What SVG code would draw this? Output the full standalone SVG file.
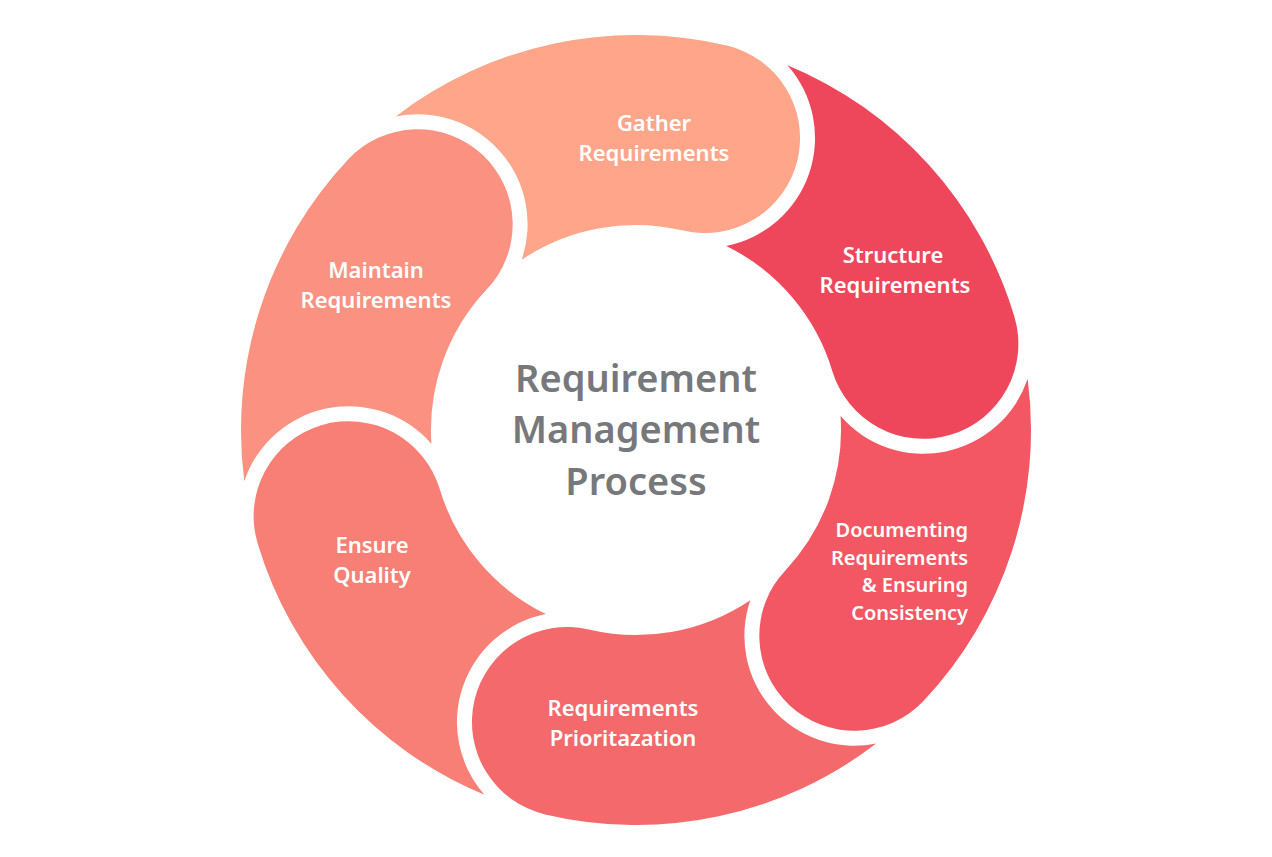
<svg xmlns="http://www.w3.org/2000/svg" width="1272" height="857" viewBox="0 0 1272 857">
<style>
.lbl{font-family:"Noto Sans","Open Sans","Liberation Sans",sans-serif;font-weight:600;font-size:22px;fill:#ffffff;text-anchor:middle}
.doc{font-size:20px;text-anchor:end}
.ctr{font-family:"Noto Sans","Open Sans","Liberation Sans",sans-serif;font-weight:600;font-size:38px;fill:#77787b;text-anchor:middle}
</style>
<defs>
<path id="seg" d="M395.8,116.4 A395,395 0 0 1 726.9,45.6 A95,95 0 0 1 797.5,159.9 A95,95 0 0 1 683.2,230.5 A205,205 0 0 0 521.7,259.8 A110,110 0 0 0 395.8,116.4 Z"/>
</defs>
<rect width="1272" height="857" fill="#ffffff"/>
<g id="connectors"></g>
<g id="gather">
<use href="#seg" fill="#fea58a"/>
<text class="lbl" x="654" y="131">Gather</text>
<text class="lbl" x="654" y="161">Requirements</text>
</g>
<g id="structure">
<use href="#seg" fill="#ee465a" transform="rotate(60 636 430)"/>
<text class="lbl" x="893" y="263">Structure</text>
<text class="lbl" x="895" y="293">Requirements</text>
</g>
<g id="documenting">
<use href="#seg" fill="#f25763" transform="rotate(120 636 430)"/>
<text class="lbl doc" x="968" y="537">Documenting</text>
<text class="lbl doc" x="968" y="565">Requirements</text>
<text class="lbl doc" x="968" y="592">&amp; Ensuring</text>
<text class="lbl doc" x="968" y="620">Consistency</text>
</g>
<g id="prioritization">
<use href="#seg" fill="#f4696b" transform="rotate(180 636 430)"/>
<text class="lbl" x="623" y="716">Requirements</text>
<text class="lbl" x="623" y="746">Prioritazation</text>
</g>
<g id="quality">
<use href="#seg" fill="#f77f75" transform="rotate(240 636 430)"/>
<text class="lbl" x="372" y="553">Ensure</text>
<text class="lbl" x="372" y="583">Quality</text>
</g>
<g id="maintain">
<use href="#seg" fill="#fb9181" transform="rotate(300 636 430)"/>
<text class="lbl" x="376" y="278">Maintain</text>
<text class="lbl" x="376" y="308">Requirements</text>
</g>
<g id="center">
<text class="ctr" x="636" y="392">Requirement</text>
<text class="ctr" x="636" y="443">Management</text>
<text class="ctr" x="636" y="495">Process</text>
</g>
</svg>
